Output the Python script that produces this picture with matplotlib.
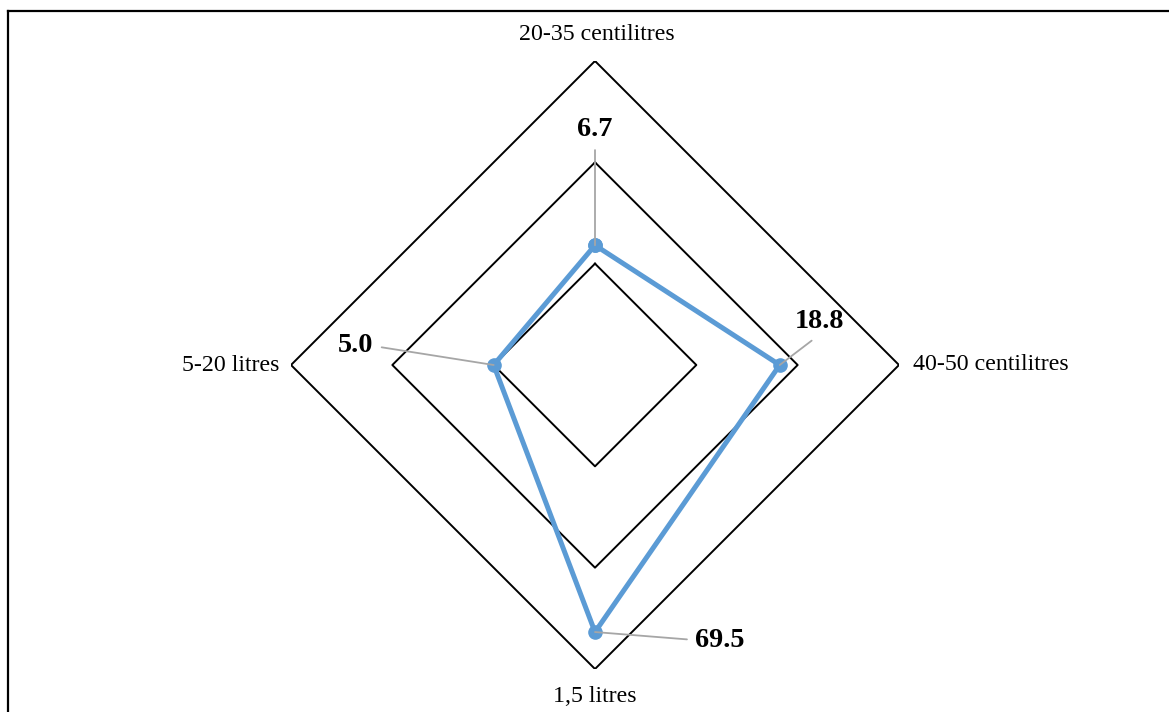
import numpy as np
import matplotlib
matplotlib.use('Agg')
import matplotlib.pyplot as plt
from matplotlib.lines import Line2D

categories = ['20-35 centilitres', '40-50 centilitres', '1,5 litres', '5-20 litres']
values = [6.7, 18.8, 69.5, 5.0]
value_labels = ['6.7', '18.8', '69.5', '5.0']
rings = [5, 25, 125]

plt.rcParams['font.family'] = ['Liberation Serif', 'DejaVu Serif']

W, H = 1169, 712
fig = plt.figure(figsize=(W / 100, H / 100), dpi=100)
fig.patch.set_facecolor('white')

# chart border (left and top edges are visible, the rest is cut off)
fig.add_artist(Line2D([8 / W, 8 / W], [-0.1, 1 - 11 / H], transform=fig.transFigure,
                      color='black', lw=1.6))
fig.add_artist(Line2D([8 / W, 1.1], [1 - 11 / H, 1 - 11 / H], transform=fig.transFigure,
                      color='black', lw=1.6))

cx, cy, R = 595, 365, 304
ax = fig.add_axes([(cx - R) / W, (H - cy - R) / H, 2 * R / W, 2 * R / H], projection='polar')
ax.set_theta_offset(np.pi / 2)
ax.set_theta_direction(-1)
ax.set_rscale('log', base=5)
ax.set_rlim(1, rings[-1])
ax.grid(False)
ax.set_xticks([])
ax.set_yticks([])
ax.spines['polar'].set_visible(False)
ax.patch.set_alpha(0)

theta = np.arange(len(categories)) * 2 * np.pi / len(categories)
theta_closed = np.append(theta, theta[0])

for ring in rings:
    ax.plot(theta_closed, [ring] * (len(theta) + 1), color='black', lw=1.4, zorder=1)

vals_closed = np.append(values, values[0])
ax.plot(theta_closed, vals_closed, color='#5B9BD5', lw=3.6, marker='o', ms=9.5,
        zorder=3, clip_on=False)

# category labels
cat_offsets = [(2, 26, 'center', 'center'), (14, 0, 'left', 'center'),
               (0, -28, 'center', 'center'), (-12, 0, 'right', 'center')]
for t, name, (dx, dy, ha, va) in zip(theta, categories, cat_offsets):
    ax.annotate(name, xy=(t, rings[-1]), xytext=(dx, dy), textcoords='offset pixels',
                ha=ha, va=va, fontsize=17.2, annotation_clip=False)

# data labels with leader lines
lab_offsets = [(0, 116, (0.5, 0.0)), (40, 43, (0.5, 0.0)),
               (125, -8, (0.0, 0.5)), (-138, 19, (1.0, 0.5))]
for t, v, txt, (dx, dy, rel) in zip(theta, values, value_labels, lab_offsets):
    ax.annotate(txt, xy=(t, v), xytext=(dx, dy), textcoords='offset pixels',
                ha='center', va='center', fontsize=20.3, fontweight='bold',
                annotation_clip=False, zorder=5,
                arrowprops=dict(arrowstyle='-', color='#A6A6A6', lw=1.3,
                                relpos=rel, shrinkA=4, shrinkB=0))

fig.savefig('out.png', dpi=100)
